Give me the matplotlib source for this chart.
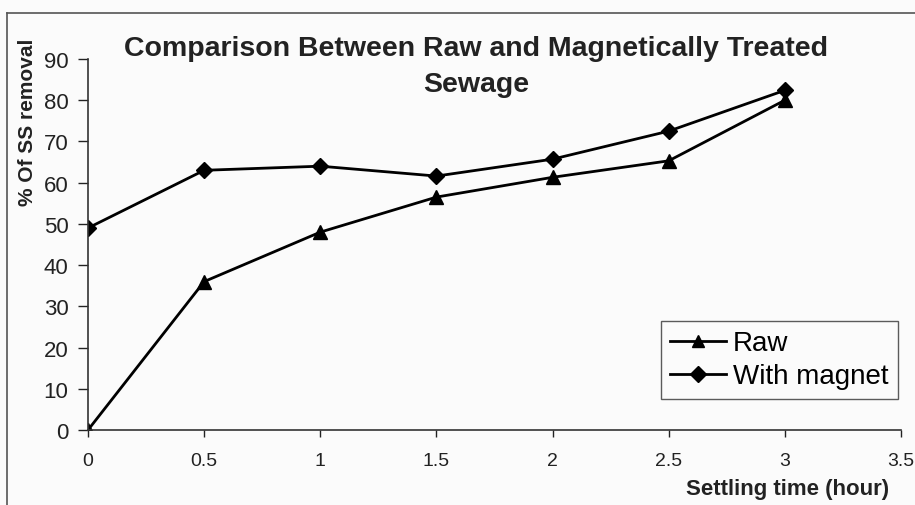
import matplotlib.pyplot as plt
from matplotlib.lines import Line2D

plt.rcParams['font.family'] = ['Liberation Sans', 'DejaVu Sans']

# settling time (hour)
time_h = [0, 0.5, 1, 1.5, 2, 2.5, 3]
# % of SS removal
raw = [0, 36, 48, 56.5, 61.3, 65.3, 80]
with_magnet = [49, 63, 64, 61.6, 65.7, 72.5, 82.4]

x_ticks = [0, 0.5, 1, 1.5, 2, 2.5, 3, 3.5]
x_ticklabels = ['0', '0.5', '1', '1.5', '2', '2.5', '3', '3.5']
y_ticks = list(range(0, 100, 10))

W, H = 915, 506
fig = plt.figure(figsize=(W / 100, H / 100), dpi=100)
fig.patch.set_facecolor('#fbfbfb')

# outer chart frame (top and left edges visible)
fig.add_artist(Line2D([7 / W, 7 / W], [0, 1 - 14 / H], color='#555555', lw=1.2))
fig.add_artist(Line2D([7 / W, 1], [1 - 14 / H, 1 - 14 / H], color='#555555', lw=1.2))

ax = fig.add_axes([88 / W, 1 - 431 / H, (901 - 88) / W, (431 - 60) / H])
ax.set_facecolor('none')

ax.plot(time_h, raw, color='black', lw=2, marker='^', ms=10, label='Raw')
ax.plot(time_h, with_magnet, color='black', lw=2, marker='D', ms=8, label='With magnet')

ax.set_xlim(0, 3.5)
ax.set_ylim(0, 90)
ax.set_xticks(x_ticks)
ax.set_xticklabels(x_ticklabels)
ax.set_yticks(y_ticks)
for s in ['top', 'right']:
    ax.spines[s].set_visible(False)
for s in ['left', 'bottom']:
    ax.spines[s].set_color('#333333')
    ax.spines[s].set_linewidth(1.2)
ax.tick_params(axis='y', direction='out', length=7, width=1, labelsize=16, pad=7, colors='#222222')
ax.tick_params(axis='x', direction='out', length=5, width=1, labelsize=14, pad=11, colors='#222222')

fig.text(476 / W, 1 - 67 / H, 'Comparison Between Raw and Magnetically Treated\nSewage',
         ha='center', va='center', fontsize=20.5, fontweight='bold', color='#222222',
         linespacing=1.55)

fig.text(28 / W, 1 - 122 / H, '% Of SS removal', rotation=90, ha='center', va='center',
         fontsize=15, fontweight='bold', color='#222222')

fig.text(788 / W, 1 - 490 / H, 'Settling time (hour)', ha='center', va='center',
         fontsize=16, fontweight='bold', color='#222222')

leg = ax.legend(loc='lower right', bbox_to_anchor=(898 / W, 1 - 400 / H),
                bbox_transform=fig.transFigure, fontsize=20, frameon=True,
                fancybox=False, edgecolor='#333333', handlelength=2.0,
                handletextpad=0.25, borderpad=0.35, labelspacing=0.25, borderaxespad=0)
leg.get_frame().set_linewidth(1.0)
leg.get_frame().set_facecolor('none')
for h in leg.legend_handles:
    h.set_markersize(8)

fig.savefig('out.png', dpi=100, facecolor=fig.get_facecolor())
